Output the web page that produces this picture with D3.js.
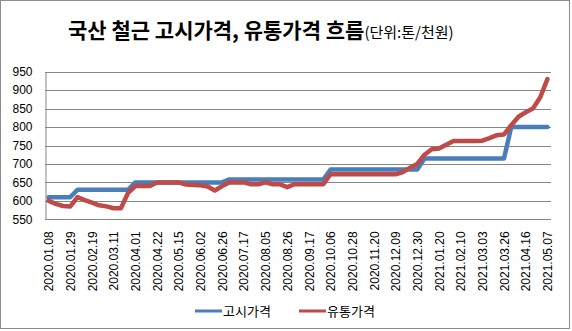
<!DOCTYPE html>
<html>
<head>
<meta charset="utf-8">
<script src="https://cdn.jsdelivr.net/npm/d3@7/dist/d3.min.js"></script>
<style>
  html, body { margin: 0; padding: 0; background: #fff; }
  svg { display: block; }
</style>
</head>
<body>
<svg id="chart" width="572" height="331"></svg>
<script>
// Weekly rebar prices (단위: 톤/천원), one value per week
const tickLabels = [
  "2020.01.08", "2020.01.29", "2020.02.19", "2020.03.11", "2020.04.01", "2020.04.22",
  "2020.05.15", "2020.06.02", "2020.06.26", "2020.07.17", "2020.08.05", "2020.08.26",
  "2020.09.17", "2020.10.06", "2020.10.28", "2020.11.20", "2020.12.09", "2020.12.30",
  "2021.01.20", "2021.02.10", "2021.03.03", "2021.03.26", "2021.04.16", "2021.05.07"
];
// a label is shown every third week
const labelEvery = 3;

const noticePrice = [
  610, 610, 610, 610,
  630, 630, 630, 630, 630, 630, 630, 630,
  650, 650, 650, 650, 650, 650, 650, 650, 650, 650, 650, 650, 650,
  658, 658, 658, 658, 658, 658, 658, 658, 658, 658, 658, 658, 658, 658,
  685, 685, 685, 685, 685, 685, 685, 685, 685, 685, 685, 685, 685,
  715, 715, 715, 715, 715, 715, 715, 715, 715, 715, 715, 715,
  800, 800, 800, 800, 800, 800
];

const marketPrice = [
  600, 592, 586, 585, 610, 602, 595, 588, 585, 580,
  580, 622, 640, 640, 640, 650, 650, 650, 650, 644,
  643, 642, 639, 628, 640, 650, 650, 650, 645, 645,
  650, 645, 645, 637, 645, 645, 645, 645, 645, 672,
  672, 672, 672, 672, 672, 672, 672, 672, 672, 678,
  690, 700, 725, 740, 742, 752, 762, 762, 762, 762,
  763, 770, 778, 780, 805, 828, 840, 850, 880, 930
];

const seriesNames = ["고시가격", "유통가격"];
const seriesColors = ["#4A7EBB", "#BE4B48"];
const yTicks = [550, 600, 650, 700, 750, 800, 850, 900, 950];

const svg = d3.select("#chart");
const plot = { left: 45, right: 551, top: 71.7, bottom: 219.3 };

const weeks = d3.range(marketPrice.length);
const x = d3.scalePoint().domain(weeks).range([plot.left, plot.right]).padding(0.5);
const y = d3.scaleLinear().domain([550, 950]).range([plot.bottom, plot.top]);

// outer frame
svg.append("rect")
  .attr("x", 0.5).attr("y", 0.5).attr("width", 569).attr("height", 328)
  .attr("fill", "#fff").attr("stroke", "#8c8c8c").attr("stroke-width", 1);

// title
const title = svg.append("text")
  .attr("x", 68).attr("y", 38)
  .attr("font-family", "'Noto Sans CJK KR', sans-serif")
  .attr("fill", "#000");
title.append("tspan")
  .attr("font-size", "21px").attr("font-weight", "bold")
  .text("국산 철근 고시가격, 유통가격 흐름");
title.append("tspan")
  .attr("font-size", "15px")
  .text("(단위:톤/천원)");

// horizontal gridlines
svg.append("g").selectAll("line")
  .data(yTicks)
  .join("line")
  .attr("x1", plot.left).attr("x2", plot.right)
  .attr("y1", d => Math.round(y(d)) + 0.5).attr("y2", d => Math.round(y(d)) + 0.5)
  .attr("stroke", "#868686").attr("stroke-width", 1);

// value axis
const yAxis = svg.append("g")
  .attr("transform", `translate(${plot.left + 0.5},0)`)
  .call(d3.axisLeft(y).tickValues(yTicks).tickSize(0).tickPadding(13));
yAxis.select(".domain").attr("stroke", "#868686");
yAxis.selectAll("text")
  .attr("font-family", "'Liberation Sans', Arial, sans-serif")
  .attr("font-size", "12px").attr("fill", "#000");

// category axis with rotated week labels
const xAxis = svg.append("g")
  .attr("transform", `translate(0,${plot.bottom})`)
  .call(d3.axisBottom(x)
    .tickValues(weeks.filter(i => i % labelEvery === 0))
    .tickFormat(i => tickLabels[i / labelEvery])
    .tickSize(0));
xAxis.select(".domain").remove();
xAxis.selectAll("text")
  .attr("font-family", "'Liberation Sans', Arial, sans-serif")
  .attr("font-size", "12px").attr("fill", "#000")
  .attr("transform", "rotate(-90)")
  .attr("text-anchor", "end")
  .attr("x", -12).attr("y", 0).attr("dy", "0.35em");

// price lines
const line = d3.line()
  .x((d, i) => x(i))
  .y(d => y(d));

[noticePrice, marketPrice].forEach((values, k) => {
  svg.append("path")
    .datum(values)
    .attr("d", line)
    .attr("fill", "none")
    .attr("stroke", seriesColors[k])
    .attr("stroke-width", 4.5)
    .attr("stroke-linejoin", "round")
    .attr("stroke-linecap", "round");
});

// legend
const legendX = [195, 299];
const legend = svg.append("g").selectAll("g")
  .data(seriesNames)
  .join("g")
  .attr("transform", (d, i) => `translate(${legendX[i]},311)`);
legend.append("line")
  .attr("x1", 0).attr("x2", 27).attr("y1", 0).attr("y2", 0)
  .attr("stroke", (d, i) => seriesColors[i]).attr("stroke-width", 3);
legend.append("text")
  .attr("x", 28).attr("y", 0).attr("dy", "0.36em")
  .attr("font-family", "'Noto Sans CJK KR', sans-serif")
  .attr("font-size", "13px").attr("fill", "#000")
  .text(d => d);
</script>
</body>
</html>
